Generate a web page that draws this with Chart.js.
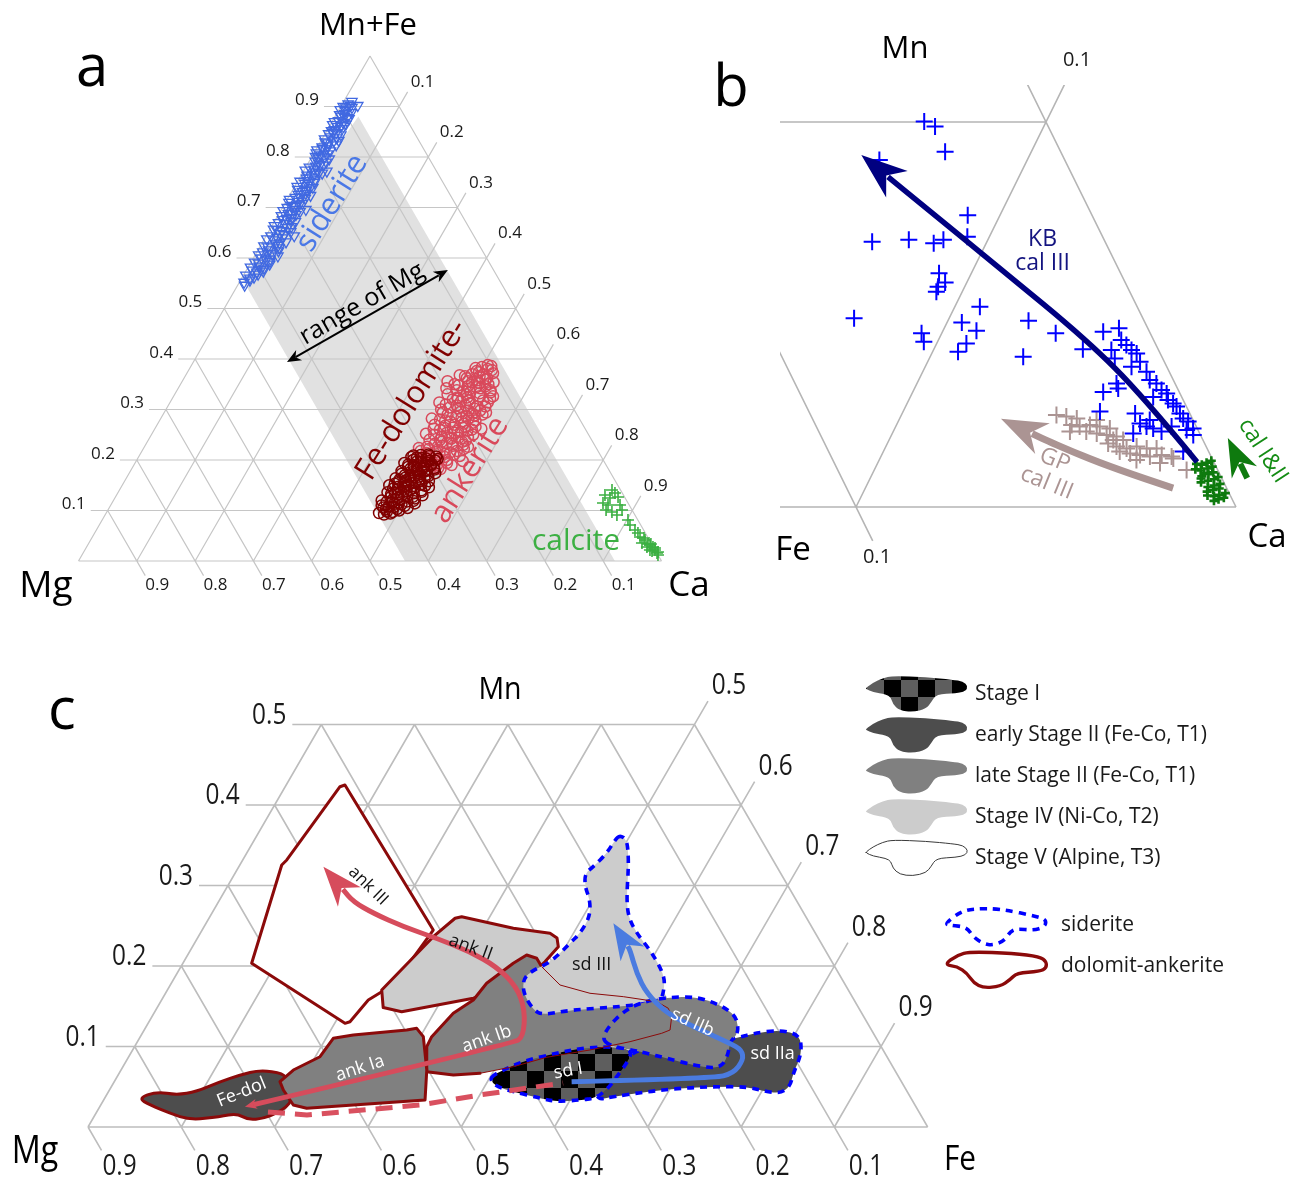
<!DOCTYPE html>
<html>
<head>
<meta charset="utf-8">
<title>Carbonate compositions – ternary diagrams</title>
<script src="https://cdn.jsdelivr.net/npm/chart.js@4.4.1/dist/chart.umd.min.js"></script>
<style>
  html, body { margin: 0; padding: 0; background: #ffffff; }
  canvas { display: block; }
</style>
</head>
<body>
<canvas id="fig" width="1295" height="1180"></canvas>
<script>
// ---------------------------------------------------------------------------
// Grid ticks shared by the three ternary diagrams
const gridTicks = [0.1, 0.2, 0.3, 0.4, 0.5, 0.6, 0.7, 0.8, 0.9];

// ---------------------------------------------------------------------------
// (a) Mg – Ca – (Mn+Fe) ; every row is [Mn+Fe, Ca]  (Mg = 1 - both)
const sideriteA = [
  [0.905,0.010],[0.900,0.004],[0.898,0.020],[0.892,0.012],[0.888,0.024],[0.884,0.006],[0.880,0.016],[0.876,0.026],
  [0.872,0.010],[0.868,0.020],[0.864,0.004],[0.860,0.014],[0.856,0.024],[0.852,0.008],[0.848,0.018],[0.844,0.028],
  [0.840,0.012],[0.836,0.004],[0.832,0.022],[0.828,0.014],[0.824,0.030],[0.820,0.008],[0.816,0.018],[0.812,0.026],
  [0.808,0.004],[0.804,0.014],[0.800,0.022],[0.796,0.032],[0.792,0.010],[0.788,0.018],[0.784,0.028],[0.780,0.006],
  [0.776,0.016],[0.772,0.024],[0.768,0.034],[0.764,0.010],[0.760,0.020],[0.756,0.028],[0.752,0.004],[0.748,0.014],
  [0.744,0.022],[0.740,0.032],[0.736,0.008],[0.732,0.018],[0.728,0.026],[0.724,0.036],[0.720,0.012],[0.716,0.004],
  [0.712,0.022],[0.708,0.030],[0.704,0.014],[0.700,0.008],[0.696,0.024],[0.692,0.034],[0.688,0.016],[0.684,0.006],
  [0.680,0.026],[0.676,0.012],[0.672,0.036],[0.668,0.020],[0.664,0.004],[0.660,0.028],[0.656,0.014],[0.652,0.038],
  [0.648,0.022],[0.644,0.008],[0.640,0.030],[0.636,0.016],[0.632,0.040],[0.628,0.024],[0.624,0.006],[0.620,0.034],
  [0.616,0.018],[0.612,0.010],[0.608,0.028],[0.604,0.040],[0.600,0.014],[0.596,0.024],[0.592,0.006],[0.588,0.034],
  [0.584,0.018],[0.580,0.028],[0.576,0.010],[0.572,0.020],[0.566,0.004],[0.560,0.014],[0.552,0.008],[0.546,0.012],
  [0.772,0.040],[0.696,0.042],[0.644,0.048],[0.910,0.014],[0.902,0.028],
  [0.902,0.016],[0.894,0.002],[0.886,0.014],[0.878,0.022],[0.870,0.004],[0.862,0.020],[0.854,0.012],[0.846,0.006],
  [0.838,0.024],[0.830,0.008],[0.822,0.016],[0.814,0.002],[0.806,0.024],[0.798,0.012],[0.790,0.030],[0.782,0.016],
  [0.774,0.002],[0.766,0.022],[0.758,0.012],[0.750,0.030],[0.742,0.004],[0.734,0.024],[0.726,0.014],[0.718,0.030],
  [0.710,0.006],[0.702,0.020],[0.694,0.004],[0.686,0.030],[0.678,0.018],[0.670,0.008],[0.662,0.034],[0.654,0.022],
  [0.646,0.030],[0.638,0.004],[0.630,0.030],[0.622,0.014],[0.614,0.036],[0.606,0.006],[0.598,0.030],[0.590,0.014],
  [0.582,0.004],[0.574,0.030],[0.568,0.024],[0.562,0.020],[0.556,0.016],
  [0.897,0.010],[0.881,0.010],[0.865,0.026],[0.849,0.012],[0.833,0.030],[0.817,0.010],[0.801,0.006],[0.785,0.022],
  [0.769,0.028],[0.753,0.016],[0.737,0.028],[0.721,0.020],[0.705,0.026],[0.689,0.022],[0.673,0.028],[0.657,0.006],
  [0.641,0.020],[0.625,0.030],[0.609,0.020],[0.593,0.032],[0.577,0.024]
];
const ankeriteA = [
  [0.180,0.505],[0.184,0.525],[0.186,0.488],[0.190,0.545],[0.192,0.515],[0.196,0.495],[0.198,0.560],[0.200,0.532],
  [0.204,0.478],[0.206,0.508],[0.208,0.550],[0.212,0.522],[0.214,0.490],[0.218,0.540],[0.220,0.505],[0.224,0.472],
  [0.226,0.555],[0.228,0.528],[0.232,0.495],[0.234,0.515],[0.238,0.545],[0.240,0.482],[0.244,0.530],[0.246,0.500],
  [0.250,0.552],[0.252,0.470],[0.254,0.518],[0.258,0.538],[0.260,0.490],[0.264,0.510],[0.266,0.548],[0.270,0.476],
  [0.272,0.525],[0.276,0.500],[0.278,0.542],[0.282,0.465],[0.284,0.515],[0.288,0.535],[0.290,0.488],[0.294,0.552],
  [0.296,0.508],[0.300,0.472],[0.302,0.528],[0.306,0.545],[0.308,0.495],[0.312,0.515],[0.314,0.462],[0.318,0.535],
  [0.320,0.482],[0.324,0.505],[0.326,0.548],[0.330,0.468],[0.332,0.522],[0.336,0.492],[0.338,0.538],[0.342,0.460],
  [0.344,0.510],[0.348,0.478],[0.350,0.528],[0.354,0.498],[0.356,0.455],[0.360,0.518],[0.362,0.485],[0.366,0.505],
  [0.368,0.470],[0.372,0.525],[0.376,0.495],[0.380,0.512],[0.384,0.500],[0.388,0.508],
  [0.215,0.530],[0.236,0.505],[0.256,0.528],[0.268,0.495],[0.286,0.522],[0.298,0.540],[0.316,0.498],[0.334,0.505],
  [0.352,0.512],[0.242,0.518],[0.262,0.560],[0.280,0.480],[0.304,0.485],[0.322,0.545],[0.346,0.525],[0.370,0.490],
  [0.202,0.518],[0.222,0.490],[0.230,0.545],
  [0.182,0.530],[0.188,0.500],[0.194,0.535],[0.200,0.490],[0.210,0.538],[0.216,0.505],[0.222,0.550],[0.226,0.485],
  [0.232,0.525],[0.236,0.540],[0.240,0.500],[0.246,0.545],[0.250,0.485],[0.254,0.505],[0.258,0.522],[0.262,0.478],
  [0.266,0.530],[0.270,0.510],[0.274,0.540],[0.278,0.490],[0.282,0.528],[0.286,0.505],[0.290,0.548],[0.294,0.478],
  [0.298,0.520],[0.302,0.500],[0.306,0.530],[0.310,0.475],[0.314,0.545],[0.318,0.510],[0.322,0.490],[0.326,0.525],
  [0.330,0.500],[0.334,0.540],[0.338,0.480],[0.342,0.518],[0.346,0.495],[0.350,0.470],[0.354,0.535],[0.358,0.505],
  [0.362,0.520],[0.366,0.480],[0.370,0.510],[0.374,0.500],[0.378,0.520],[0.382,0.490],[0.386,0.515],[0.190,0.520],
  [0.206,0.525],[0.228,0.510],[0.244,0.515],[0.260,0.545],[0.276,0.520],[0.292,0.530],[0.308,0.510],[0.324,0.488],
  [0.340,0.500],[0.356,0.490],[0.218,0.478],[0.264,0.495]
];
const feDolomiteA = [
  [0.092,0.478],[0.095,0.468],[0.097,0.490],[0.100,0.500],[0.102,0.476],[0.105,0.512],[0.107,0.488],[0.110,0.465],
  [0.112,0.498],[0.114,0.520],[0.116,0.480],[0.118,0.505],[0.120,0.460],[0.122,0.490],[0.124,0.515],[0.126,0.472],
  [0.128,0.500],[0.130,0.525],[0.132,0.482],[0.134,0.508],[0.136,0.462],[0.138,0.494],[0.140,0.518],[0.142,0.476],
  [0.144,0.503],[0.146,0.528],[0.148,0.486],[0.150,0.458],[0.152,0.512],[0.154,0.495],[0.156,0.470],[0.158,0.522],
  [0.160,0.482],[0.162,0.505],[0.164,0.462],[0.166,0.492],[0.168,0.516],[0.170,0.475],[0.172,0.500],[0.174,0.525],
  [0.176,0.485],[0.178,0.465],[0.180,0.508],[0.182,0.490],[0.184,0.518],[0.186,0.472],[0.188,0.498],[0.190,0.480],
  [0.192,0.510],[0.194,0.462],[0.196,0.490],[0.198,0.502],[0.200,0.474],[0.202,0.515],[0.204,0.486],[0.206,0.468],
  [0.208,0.498],[0.210,0.482],[0.125,0.485],[0.135,0.475],[0.145,0.490],[0.155,0.482],[0.165,0.478],[0.175,0.495],
  [0.185,0.500],[0.115,0.492],[0.108,0.478],[0.143,0.468],[0.163,0.512],[0.183,0.478],
  [0.094,0.488],[0.098,0.480],[0.103,0.495],[0.106,0.470],[0.109,0.505],[0.113,0.485],[0.117,0.470],[0.119,0.515],
  [0.121,0.478],[0.127,0.510],[0.129,0.490],[0.133,0.470],[0.137,0.520],[0.139,0.484],[0.141,0.498],[0.147,0.475],
  [0.149,0.520],[0.151,0.490],[0.153,0.466],[0.157,0.505],[0.159,0.490],[0.161,0.470],[0.167,0.500],[0.169,0.485],
  [0.171,0.512],[0.173,0.468],[0.177,0.505],[0.179,0.490],[0.181,0.520],[0.187,0.482],[0.189,0.510],[0.191,0.470],
  [0.195,0.500],[0.197,0.482],[0.199,0.512],[0.203,0.495],[0.205,0.478],[0.207,0.510],[0.209,0.470],[0.211,0.495]
];
const calciteA = [
  [0.1406,0.8448],[0.1347,0.8528],[0.1307,0.8377],[0.1267,0.8621],[0.1248,0.8492],[0.1149,0.8422],[0.1109,0.8528],
  [0.1109,0.8734],[0.1010,0.8544],[0.1010,0.8818],[0.0970,0.8665],[0.0911,0.8780],[0.0812,0.9019],[0.0713,0.9103],
  [0.0614,0.9238],[0.0554,0.9319],[0.0475,0.9394],[0.0455,0.9472],[0.0416,0.9509],[0.0356,0.9487],[0.0337,0.9600],
  [0.0337,0.9650],[0.0317,0.9645],[0.0277,0.9612],[0.0277,0.9715],[0.0257,0.9760],[0.0218,0.9693],[0.0218,0.9779],
  [0.0198,0.9738],[0.0178,0.9851],[0.0158,0.9844],[0.0119,0.9880]
];
// band of Mg contents spanned by the carbonates, [Mn+Fe, Ca]
const mgRangeBand = [[0, 0.56], [0, 0.92], [0.88, 0.04], [0.555, 0.005]];
// double arrow "range of Mg", [Mn+Fe, Ca]
const mgRangeArrow = [[0.394, 0.1606], [0.576, 0.3456]];

// ---------------------------------------------------------------------------
// (b) Ca corner of Fe – Ca – Mn ; every row is [Mn, Fe]  (Ca = 1 - both)
const kbCalIII = [
  [0.1001,0.0320],[0.0988,0.0298],[0.0923,0.0304],[0.0901,0.0488],[0.0758,0.0327],[0.0689,0.0613],[0.0694,0.0514],
  [0.0685,0.0453],[0.0694,0.0423],[0.0702,0.0356],[0.0607,0.0478],[0.0583,0.0474],[0.0572,0.0498],[0.0559,0.0509],
  [0.0490,0.0760],[0.0520,0.0414],[0.0479,0.0482],[0.0458,0.0454],[0.0451,0.0602],[0.0429,0.0607],[0.0425,0.0497],
  [0.0403,0.0530],[0.0484,0.0304],[0.0451,0.0249],[0.0390,0.0365],[0.0410,0.0198],
  [0.0455,0.0122],[0.0464,0.0076],[0.0434,0.0085],[0.0408,0.0124],[0.0421,0.0078],[0.0408,0.0071],[0.0399,0.0062],
  [0.0386,0.0126],[0.0377,0.0064],[0.0364,0.0093],[0.0351,0.0060],[0.0330,0.0062],[0.0321,0.0049],[0.0304,0.0044],
  [0.0295,0.0035],[0.0286,0.0075],[0.0278,0.0040],[0.0269,0.0031],[0.0261,0.0026],[0.0243,0.0026],[0.0230,0.0024],
  [0.0222,0.0015],[0.0204,0.0011],[0.0187,0.0019],[0.0144,0.0067],[0.0299,0.0200],[0.0308,0.0156],[0.0321,0.0154],
  [0.0248,0.0234],[0.0243,0.0144],[0.0217,0.0144],[0.0209,0.0131],[0.0204,0.0116],[0.0196,0.0098],[0.0191,0.0175],
  [0.0226,0.0114],[0.0209,0.0065],[0.0200,0.0030]
];
const gpCalIII = [
  [0.0239,0.0353],[0.0235,0.0329],[0.0230,0.0304],[0.0213,0.0326],[0.0209,0.0307],[0.0213,0.0278],[0.0209,0.0254],
  [0.0204,0.0230],[0.0196,0.0339],[0.0196,0.0296],[0.0191,0.0271],[0.0187,0.0247],[0.0183,0.0223],[0.0174,0.0210],
  [0.0165,0.0254],[0.0157,0.0236],[0.0152,0.0212],[0.0157,0.0183],[0.0152,0.0159],[0.0152,0.0133],[0.0144,0.0234],
  [0.0139,0.0209],[0.0135,0.0185],[0.0131,0.0161],[0.0135,0.0128],[0.0131,0.0104],[0.0114,0.0143],[0.0122,0.0201],
  [0.0096,0.0082],[0.0126,0.0102],[0.0226,0.0254],[0.0174,0.0236]
];
const calIandII = [
  [0.0120,0.0005],[0.0115,0.0020],[0.0110,0.0035],[0.0105,0.0010],[0.0100,0.0025],[0.0095,0.0045],[0.0090,0.0015],
  [0.0085,0.0030],[0.0080,0.0050],[0.0078,0.0008],[0.0072,0.0022],[0.0068,0.0040],[0.0064,0.0060],[0.0060,0.0012],
  [0.0056,0.0030],[0.0052,0.0048],[0.0048,0.0020],[0.0044,0.0038],[0.0040,0.0056],[0.0036,0.0010],[0.0032,0.0028],
  [0.0028,0.0044],[0.0024,0.0020],[0.0020,0.0036],[0.0016,0.0050],[0.0098,0.0058],[0.0088,0.0040],[0.0074,0.0055],
  [0.0112,0.0048],[0.0030,0.0060]
];
// evolution trends in (b), [Mn, Fe]
const kbTrend  = [[0.0117,0.0044],[0.0288,0.0101],[0.0434,0.0176],[0.0621,0.0312],[0.0769,0.0422],[0.0914,0.0529]];
const gpTrend  = [[0.0049,0.0141],[0.0101,0.0276],[0.0166,0.0401],[0.0229,0.0504]];
const calTrend = [[0.0075,-0.0067],[0.0179,-0.0068]];

// ---------------------------------------------------------------------------
// (c) Mg – Fe – Mn (Mn <= 0.5) ; fields as [Mn, Fe] outlines  (Mg = 1 - both)
const feDol = [[0.0357,0.1361],[0.0439,0.1517],[0.0398,0.1752],[0.0439,0.1945],[0.0563,0.2133],[0.0646,0.2307],
  [0.0708,0.2490],[0.0667,0.2760],[0.0584,0.2838],[0.0335,0.3016],[0.0252,0.3003],[0.0170,0.2938],[0.0108,0.2825],
  [0.0087,0.2674],[0.0170,0.2509],[0.0128,0.2350],[0.0087,0.2049],[0.0170,0.1794],[0.0273,0.1528]];
const ankIa = [[0.0563,0.2776],[0.0708,0.2847],[0.0873,0.3050],[0.1102,0.3078],[0.1143,0.3272],[0.1205,0.3814],
  [0.1226,0.3910],[0.1122,0.4033],[0.0708,0.4277],[0.0335,0.4445],[0.0232,0.3228],[0.0273,0.3064],[0.0460,0.2864]];
const ankIb = [[0.0687,0.4287],[0.0998,0.4132],[0.1122,0.4123],[0.1412,0.4209],[0.1578,0.4341],[0.1785,0.4380],
  [0.2034,0.4541],[0.2137,0.4633],[0.2096,0.4761],[0.1991,0.4867],[0.1764,0.5177],[0.1661,0.5550],[0.1619,0.5928],
  [0.1557,0.6317],[0.1475,0.6482],[0.1370,0.6571],[0.1205,0.6636],[0.1164,0.6567],[0.1060,0.6280],[0.0957,0.5902],
  [0.0866,0.5483],[0.0749,0.5184],[0.0667,0.4868],[0.0646,0.4593]];
const ankII = [[0.2593,0.3638],[0.2612,0.3699],[0.2468,0.4325],[0.2406,0.4749],[0.2348,0.4853],[0.2240,0.4921],
  [0.2053,0.4871],[0.1764,0.4748],[0.1599,0.4330],[0.1432,0.3646],[0.1484,0.3422],[0.1702,0.3297],[0.2364,0.3519]];
const ankIII = [[0.4248,0.1630],[0.2447,0.3477],[0.1739,0.3389],[0.1681,0.3308],[0.1578,0.3215],[0.1308,0.3154],
  [0.1288,0.3110],[0.2034,0.1737],[0.3255,0.1449],[0.3317,0.1472],[0.4227,0.1587]];
const sdI = [[0.0646,0.5021],[0.0729,0.5123],[0.0832,0.5286],[0.0916,0.5566],[0.0978,0.5785],[0.0998,0.6061],
  [0.0978,0.6285],[0.0916,0.6370],[0.0791,0.6378],[0.0625,0.6355],[0.0460,0.6330],[0.0357,0.6256],[0.0335,0.6106],
  [0.0314,0.5866],[0.0357,0.5667],[0.0439,0.5339],[0.0501,0.5130],[0.0584,0.5017]];
const sdIIa = [[0.1102,0.7402],[0.1164,0.7549],[0.1205,0.7815],[0.1143,0.8060],[0.0916,0.8192],[0.0667,0.8226],
  [0.0501,0.8273],[0.0419,0.8208],[0.0439,0.8055],[0.0501,0.7809],[0.0501,0.7451],[0.0481,0.7105],[0.0439,0.6768],
  [0.0376,0.6442],[0.0335,0.6267],[0.0584,0.6196],[0.0832,0.6286],[0.1019,0.6514],[0.1081,0.7234]];
const sdIIb = [[0.1081,0.5966],[0.1246,0.5954],[0.1432,0.6021],[0.1544,0.6145],[0.1611,0.6397],[0.1619,0.6715],
  [0.1516,0.7016],[0.1391,0.7239],[0.1246,0.7347],[0.1143,0.7382],[0.1060,0.7352],[0.0916,0.7405],[0.0770,0.7424],
  [0.0729,0.7338],[0.0770,0.7103],[0.0853,0.6776],[0.0916,0.6531],[0.0957,0.6349],[0.0998,0.6132]];
const sdIII = [[0.3627,0.4889],[0.3565,0.4991],[0.3400,0.5091],[0.3193,0.5195],[0.2861,0.5343],[0.2612,0.5484],
  [0.2406,0.5678],[0.2199,0.5924],[0.1991,0.6135],[0.1826,0.6271],[0.1661,0.6335],[0.1557,0.6353],[0.1494,0.5955],
  [0.1453,0.5439],[0.1391,0.5184],[0.1453,0.5046],[0.1661,0.4835],[0.1847,0.4742],[0.1950,0.4797],[0.2034,0.4916],
  [0.2158,0.4980],[0.2282,0.5025],[0.2406,0.5071],[0.2612,0.5074],[0.2820,0.4971],[0.2985,0.4834],[0.3152,0.4751],
  [0.3234,0.4800],[0.3400,0.4860],[0.3565,0.4866]];
// evolution trends in (c), [Mn, Fe]
const ankTrend = [[0.0252,0.2556],[0.1040,0.5039],[0.1122,0.5105],[0.1453,0.4957],[0.1743,0.4723],[0.1991,0.4385],
  [0.2178,0.4005],[0.2344,0.3566],[0.2488,0.3135],[0.2655,0.2731],[0.2799,0.2444],[0.3234,0.1906]];
const ankSdLink = [[0.0186,0.2836],[0.0149,0.3272],[0.0273,0.4422],[0.0398,0.5003],[0.0547,0.5818]];
const sdTrend = [[0.0563,0.5902],[0.0605,0.7400],[0.0667,0.7583],[0.0832,0.7608],[0.0957,0.7528],[0.1040,0.7361],
  [0.1246,0.6865],[0.1412,0.6496],[0.1661,0.6158],[0.1909,0.5926],[0.2199,0.5710],[0.2530,0.5366]];

// legend of (c)
const stageNames = ['Stage I', 'early Stage II (Fe-Co, T1)', 'late Stage II (Fe-Co, T1)',
                    'Stage IV (Ni-Co, T2)', 'Stage V (Alpine, T3)'];
const mineralNames = ['siderite', 'dolomit-ankerite'];

// ---------------------------------------------------------------------------
const W = 1295, H = 1180;
const FONT = "'Open Sans', 'DejaVu Sans', sans-serif";

// Ternary projection: top component -> height, right component -> width
const tern = (top, right) => ({ x: right + top / 2, y: top });
const toXY = {
  a: ([t, ca]) => tern(t, ca),
  b: ([mn, fe]) => tern(mn, 1 - mn - fe),
  c: ([mn, fe]) => tern(mn, fe)
};

// page frame of each diagram: pixel origin and pixels per unit
const frames = {
  a: { x0: 78.5,  kx: 583,  y0: 561,  ky: 505 },
  b: { x0: -2564, kx: 3800, y0: 507,  ky: 3850 },
  c: { x0: -5.3,  kx: 933,  y0: 1127, ky: 805 }
};
const scaleConfig = { x: { display: false }, y: { display: false } };
for (const [k, f] of Object.entries(frames)) {
  scaleConfig['x' + k] = { type: 'linear', display: false, min: -f.x0 / f.kx, max: (W - f.x0) / f.kx };
  scaleConfig['y' + k] = { type: 'linear', display: false, min: -(H - f.y0) / f.ky, max: f.y0 / f.ky };
}

// ---------------------------------------------------------------------------
// grid segments (compositions) for each diagram
function gridA() {
  const e = 0.029;
  const segs = [[[0, 0], [0, 1]], [[0, 1], [1, 0]], [[1, 0], [0, 0]]];
  gridTicks.forEach(v => {
    segs.push([[v, -e], [v, 1 - v]]);          // Mn+Fe = v
    segs.push([[0, v], [1 - v + e, v]]);       // Ca = v
    segs.push([[1 - v, 0], [-e, 1 - v + e]]);  // Mg = v
  });
  return segs;
}
const gridB = [
  [[0, 0], [0, 0.2]],
  [[0, 0], [0.2, 0]],
  [[0.1, 0], [0.1, 0.2]],
  [[-0.0088, 0.1], [0.2, 0.1]],
  [[0, 0.1], [0.2, -0.1]]
];
const C_E = 0.029, C_EH = 0.031, C_FMIN = 0.1, C_TOP = 0.5;
function gridC() {
  const segs = [[[0, C_FMIN], [0, 1]], [[0, 1], [C_TOP, 1 - C_TOP]], [[0, C_FMIN], [C_TOP, C_FMIN]]];
  gridTicks.forEach(v => {
    if (v <= C_TOP) segs.push([[v, C_FMIN - C_EH], [v, 1 - v]]);
    if (v > C_FMIN) {
      const top = Math.min(C_TOP, 1 - v);
      segs.push([[0, v], [top + (v >= C_TOP ? C_E : 0), v]]);
    }
    const mnTop = Math.min(C_TOP, 1 - C_FMIN - v);
    segs.push([[mnTop, 1 - v - mnTop], [-C_E, 1 - v + C_E]]);
  });
  return segs;
}

function gridSet(panel, segs, color, width, extra) {
  const data = [];
  segs.forEach(s => { s.forEach(p => data.push(toXY[panel](p))); data.push({ x: NaN, y: NaN }); });
  return Object.assign({
    xAxisID: 'x' + panel, yAxisID: 'y' + panel, data,
    showLine: true, pointRadius: 0, borderColor: color, borderWidth: width,
    spanGaps: false, fill: false, order: 10
  }, extra || {});
}
function pointSet(panel, rows, style) {
  return Object.assign({
    xAxisID: 'x' + panel, yAxisID: 'y' + panel,
    data: rows.map(toXY[panel]), showLine: false,
    pointBackgroundColor: 'rgba(0,0,0,0)'
  }, style);
}

const datasets = [
  gridSet('a', gridA(), '#c6c6c6', 1.2),
  gridSet('b', gridB, '#b5b5b5', 1.6, { clip: { left: -780, top: -85, right: 0, bottom: 0 } }),
  gridSet('c', gridC(), '#bdbdbd', 1.6),
  pointSet('a', sideriteA,   { pointStyle: 'triangle', pointRotation: 180, pointRadius: 6, pointBorderColor: '#4169e1', pointBorderWidth: 1.3, order: 3 }),
  pointSet('a', ankeriteA,   { pointStyle: 'circle', pointRadius: 5.5, pointBorderColor: '#d9495b', pointBorderWidth: 1.5, order: 3 }),
  pointSet('a', feDolomiteA, { pointStyle: 'circle', pointRadius: 5.5, pointBorderColor: '#800000', pointBorderWidth: 1.5, order: 2 }),
  pointSet('a', calciteA,    { pointStyle: 'cross', pointRadius: 6, pointBorderColor: '#3cb043', pointBorderWidth: 1.6, order: 3 }),
  pointSet('b', gpCalIII,    { pointStyle: 'cross', pointRadius: 8.5, pointBorderColor: '#ab9493', pointBorderWidth: 2, order: 3 }),
  pointSet('b', kbCalIII,    { pointStyle: 'cross', pointRadius: 8.5, pointBorderColor: '#0000ff', pointBorderWidth: 2, order: 2 }),
  pointSet('b', calIandII,   { pointStyle: 'cross', pointRadius: 4.5, pointBorderColor: '#0e7a0e', pointBorderWidth: 2.6, order: 2 })
];

// ---------------------------------------------------------------------------
// drawing helpers
const mid = (p, q) => [(p[0] + q[0]) / 2, (p[1] + q[1]) / 2];
function P(chart, panel, comp) {
  const q = toXY[panel](comp);
  return [chart.scales['x' + panel].getPixelForValue(q.x), chart.scales['y' + panel].getPixelForValue(q.y)];
}
function tracePoly(ctx, pts, smooth) {
  ctx.beginPath();
  if (!smooth) {
    pts.forEach((p, i) => i ? ctx.lineTo(p[0], p[1]) : ctx.moveTo(p[0], p[1]));
    ctx.closePath();
    return;
  }
  const n = pts.length;
  const m0 = mid(pts[n - 1], pts[0]);
  ctx.moveTo(m0[0], m0[1]);
  for (let i = 0; i < n; i++) {
    const m = mid(pts[i], pts[(i + 1) % n]);
    ctx.quadraticCurveTo(pts[i][0], pts[i][1], m[0], m[1]);
  }
  ctx.closePath();
}
function traceOpen(ctx, pts, smooth) {
  ctx.beginPath();
  ctx.moveTo(pts[0][0], pts[0][1]);
  if (!smooth || pts.length < 3) {
    for (let i = 1; i < pts.length; i++) ctx.lineTo(pts[i][0], pts[i][1]);
    return;
  }
  for (let i = 1; i < pts.length - 1; i++) {
    const m = mid(pts[i], pts[i + 1]);
    ctx.quadraticCurveTo(pts[i][0], pts[i][1], m[0], m[1]);
  }
  ctx.lineTo(pts[pts.length - 1][0], pts[pts.length - 1][1]);
}
function head(ctx, tip, dx, dy, len, half, color) {
  const bx = tip[0] - dx * len, by = tip[1] - dy * len, nx = -dy, ny = dx;
  ctx.beginPath();
  ctx.moveTo(tip[0], tip[1]);
  ctx.lineTo(bx + nx * half, by + ny * half);
  ctx.lineTo(tip[0] - dx * len * 0.7, tip[1] - dy * len * 0.7);
  ctx.lineTo(bx - nx * half, by - ny * half);
  ctx.closePath();
  ctx.fillStyle = color;
  ctx.fill();
}
function unit(a, b) {
  const dx = b[0] - a[0], dy = b[1] - a[1], L = Math.hypot(dx, dy) || 1;
  return [dx / L, dy / L];
}
function arrow(ctx, pts, o) {
  const n = pts.length, tip = pts[n - 1];
  const [dx, dy] = unit(pts[n - 2], tip);
  const shaft = pts.slice(0, n - 1).concat([[tip[0] - dx * o.len * 0.75, tip[1] - dy * o.len * 0.75]]);
  if (o.tail) {
    const [tx, ty] = unit(pts[1], pts[0]);
    head(ctx, pts[0], tx, ty, o.tail[0], o.tail[1], o.color);
    shaft[0] = [pts[0][0] - tx * o.tail[0] * 0.7, pts[0][1] - ty * o.tail[0] * 0.7];
  }
  ctx.save();
  ctx.strokeStyle = o.color;
  ctx.lineWidth = o.width;
  ctx.lineCap = 'butt';
  ctx.lineJoin = 'round';
  traceOpen(ctx, shaft, o.smooth);
  ctx.stroke();
  ctx.restore();
  head(ctx, tip, dx, dy, o.len, o.half, o.color);
}
function text(ctx, s, x, y, o) {
  ctx.save();
  ctx.translate(x, y);
  if (o.rot) ctx.rotate(o.rot * Math.PI / 180);
  if (o.sx) ctx.scale(o.sx, 1);
  ctx.font = (o.weight || 'normal') + ' ' + o.size + 'px ' + (o.family || FONT);
  ctx.fillStyle = o.color || '#1a1a1a';
  ctx.textAlign = o.align || 'center';
  ctx.textBaseline = o.base || 'middle';
  ctx.fillText(s, 0, 0);
  ctx.restore();
}
function checker(ctx) {
  const c = document.createElement('canvas');
  c.width = 34; c.height = 34;
  const g = c.getContext('2d');
  g.fillStyle = '#5e5e5e'; g.fillRect(0, 0, 34, 34);
  g.fillStyle = '#000000'; g.fillRect(0, 0, 17, 17); g.fillRect(17, 17, 17, 17);
  return ctx.createPattern(c, 'repeat');
}

const DOL_RED = '#8b0a0a', SD_BLUE = '#0000ff';
const SD_DASH = [7, 6];
const FILL = { early: '#4d4d4d', late: '#808080', stageIV: '#cccccc', stageV: '#ffffff' };

function region(ctx, pts, o) {
  tracePoly(ctx, pts, o.smooth);
  ctx.fillStyle = o.fill;
  ctx.fill();
  if (o.stroke) {
    ctx.save();
    ctx.strokeStyle = o.stroke;
    ctx.lineWidth = o.lw;
    ctx.lineJoin = 'round';
    ctx.lineCap = o.dash ? 'butt' : 'round';
    ctx.setLineDash(o.dash || []);
    tracePoly(ctx, pts, o.smooth);
    ctx.stroke();
    ctx.restore();
  }
}

// ---------------------------------------------------------------------------
function drawPanelA(chart, ctx) {
  const e = 0.029;
  gridTicks.forEach(v => {
    const l = P(chart, 'a', [v, -e]);
    text(ctx, v.toFixed(1), l[0] - 5, l[1] - 6, { size: 17, align: 'right' });
    const r = P(chart, 'a', [1 - v + e, v]);
    text(ctx, v.toFixed(1), r[0] + 15, r[1] - 10, { size: 17 });
    const b = P(chart, 'a', [-e, 1 - v + e]);
    text(ctx, v.toFixed(1), b[0] + 12, b[1] + 10, { size: 17 });
  });
  const a0 = P(chart, 'a', mgRangeArrow[0]), a1 = P(chart, 'a', mgRangeArrow[1]);
  arrow(ctx, [a0, a1], { color: '#000000', width: 2, len: 14, half: 6, tail: [14, 6] });

  const put = (s, comp, o) => { const p = P(chart, 'a', comp); text(ctx, s, p[0], p[1], o); };
  put('siderite', [0.709, 0.0803], { size: 31, color: '#4a78e6', rot: -58 });
  put('range of Mg', [0.5089, 0.2319], { size: 25, color: '#000000', rot: -30 });
  put('Fe-dolomite-', [0.3188, 0.4122], { size: 31, color: '#800000', rot: -58 });
  put('ankerite', [0.1802, 0.5815], { size: 31, color: '#d9495b', rot: -58 });
  put('calcite', [0.0396, 0.8335], { size: 30, color: '#3cb043' });

  text(ctx, 'a', 92, 86, { size: 58, base: 'alphabetic', color: '#000' });
  text(ctx, 'Mn+Fe', 368, 26, { size: 31, color: '#000' });
  text(ctx, 'Mg', 46, 586, { size: 37, color: '#000' });
  text(ctx, 'Ca', 689, 586, { size: 35, color: '#000' });
}

function drawPanelB(chart, ctx) {
  const pb = rows => rows.map(r => P(chart, 'b', r));
  arrow(ctx, pb(gpTrend), { color: '#ab9493', width: 7, len: 46, half: 17, smooth: true });
  arrow(ctx, pb(kbTrend), { color: '#000080', width: 5.5, len: 46, half: 17, smooth: true });
  arrow(ctx, pb(calTrend), { color: '#0e7a0e', width: 6, len: 38, half: 14 });

  const put = (s, comp, o) => { const p = P(chart, 'b', comp); text(ctx, s, p[0], p[1], o); };
  put('KB', [0.0694, 0.0162], { size: 23, color: '#141480' });
  put('cal III', [0.0632, 0.0193], { size: 23, color: '#141480' });
  put('GP', [0.0122, 0.0416], { size: 23, color: '#ab9493', rot: 22 });
  put('cal III', [0.0062, 0.0467], { size: 23, color: '#ab9493', rot: 22 });
  put('cal I&II', [0.0146, -0.0144], { size: 23, color: '#148c14', rot: 57 });

  text(ctx, 'b', 731, 106, { size: 58, base: 'alphabetic', color: '#000' });
  text(ctx, 'Mn', 905, 49, { size: 31, color: '#000' });
  text(ctx, 'Fe', 793, 551, { size: 33, color: '#000' });
  text(ctx, 'Ca', 1267, 538, { size: 33, color: '#000' });
  text(ctx, '0.1', 1077, 60, { size: 20 });
  text(ctx, '0.1', 877, 557, { size: 20 });
}

function drawPanelC(chart, ctx) {
  const pc = rows => rows.map(r => P(chart, 'c', r));
  const check = checker(ctx);

  gridTicks.forEach(v => {
    if (v <= C_TOP) {
      const l = P(chart, 'c', [v, C_FMIN - C_EH]);
      text(ctx, v.toFixed(1), l[0] - 6, l[1] - 9, { size: 29, sx: 0.84, align: 'right' });
    }
    if (v >= C_TOP) {
      const r = P(chart, 'c', [1 - v + C_E, v]);
      text(ctx, v.toFixed(1), r[0] + 21, r[1] - 15, { size: 29, sx: 0.84 });
    }
    const b = P(chart, 'c', [-C_E, 1 - v + C_E]);
    text(ctx, v.toFixed(1), b[0] + 18, b[1] + 16, { size: 29, sx: 0.84 });
  });

  // dolomite – ankerite fields
  region(ctx, pc(ankIII), { fill: FILL.stageV, stroke: DOL_RED, lw: 3 });
  region(ctx, pc(ankII), { fill: FILL.stageIV, stroke: DOL_RED, lw: 3 });
  const ib = pc(ankIb);
  region(ctx, ib, { fill: FILL.late });
  ctx.save();
  ctx.strokeStyle = DOL_RED; ctx.lineWidth = 3; ctx.lineJoin = 'round'; ctx.lineCap = 'round';
  traceOpen(ctx, [ib[22], ib[23]].concat(ib.slice(0, 10)), false);
  ctx.stroke();
  ctx.restore();
  region(ctx, pc(feDol), { fill: FILL.early, stroke: DOL_RED, lw: 3, smooth: true });
  region(ctx, pc(ankIa), { fill: FILL.late, stroke: DOL_RED, lw: 3 });

  // siderite fields
  region(ctx, pc(sdIIa), { fill: FILL.early, stroke: SD_BLUE, lw: 3.6, dash: SD_DASH, smooth: true });
  region(ctx, pc(sdI), { fill: check, stroke: SD_BLUE, lw: 3.6, dash: SD_DASH, smooth: true });
  region(ctx, pc(sdIII), { fill: FILL.stageIV, stroke: SD_BLUE, lw: 3.6, dash: SD_DASH, smooth: true });
  region(ctx, pc(sdIIb), { fill: FILL.late, stroke: SD_BLUE, lw: 3.6, dash: SD_DASH, smooth: true });

  // hidden part of the ank Ib outline
  ctx.save();
  ctx.strokeStyle = DOL_RED; ctx.lineWidth = 1; ctx.lineJoin = 'round';
  traceOpen(ctx, ib.slice(9, 23), false);
  ctx.stroke();
  ctx.restore();

  // trends
  ctx.save();
  ctx.strokeStyle = '#d9505f'; ctx.lineWidth = 5; ctx.setLineDash([17, 10]);
  traceOpen(ctx, pc(ankSdLink), false);
  ctx.stroke();
  ctx.restore();
  arrow(ctx, pc(ankTrend), { color: '#d64c5c', width: 5, len: 40, half: 15, smooth: true, tail: [12, 5] });
  arrow(ctx, pc(sdTrend), { color: '#4a7be0', width: 5, len: 36, half: 14, smooth: true });

  const put = (s, comp, o) => { const p = P(chart, 'c', comp); text(ctx, s, p[0], p[1], o); };
  put('ank III', [0.2996, 0.2506], { size: 17, color: '#111', rot: 44 });
  put('ank II', [0.2230, 0.3988], { size: 18, color: '#111', rot: 20 });
  put('ank Ib', [0.1093, 0.4727], { size: 18, color: '#ffffff', rot: -19 });
  put('ank Ia', [0.0729, 0.3551], { size: 18, color: '#ffffff', rot: -18 });
  put('Fe-dol', [0.0429, 0.2433], { size: 18, color: '#ffffff', rot: -22 });
  put('sd III', [0.2012, 0.5392], { size: 18, color: '#111' });
  put('sd IIb', [0.1298, 0.6830], { size: 18, color: '#ffffff', rot: 24 });
  put('sd IIa', [0.0903, 0.7887], { size: 18, color: '#ffffff' });
  put('sd I', [0.0698, 0.5798], { size: 18, color: '#ffffff', rot: -10 });

  text(ctx, 'c', 62, 729, { size: 58, base: 'alphabetic', color: '#000' });
  text(ctx, 'Mn', 500, 690, { size: 31, sx: 0.92, color: '#000' });
  text(ctx, 'Mg', 35, 1152, { size: 38, sx: 0.85, color: '#000' });
  text(ctx, 'Fe', 960, 1160, { size: 35, sx: 0.85, color: '#000' });

  drawLegend(ctx, check);
}

// normalised outlines of the legend glyphs
const stageGlyph = [[0,0.35],[0.066,0.217],[0.164,0.087],[0.262,0.026],[0.59,0.061],[0.852,0.13],[0.951,0.174],
  [1,0.304],[0.977,0.435],[0.885,0.496],[0.689,0.522],[0.639,0.739],[0.59,0.913],[0.459,1],[0.328,0.957],
  [0.262,0.783],[0.246,0.609],[0.197,0.522],[0.066,0.461],[0,0.374]];
const sideriteGlyph = [[0,0.42],[0.145,0.125],[0.274,0.042],[0.532,0.042],[0.919,0.25],[0.984,0.333],[0.968,0.5],
  [0.855,0.583],[0.694,0.542],[0.629,0.625],[0.581,0.833],[0.468,0.958],[0.371,0.917],[0.274,0.75],[0.21,0.5],[0.048,0.458]];
const dolomiteGlyph = [[0,0.39],[0.127,0.13],[0.254,0.043],[0.667,0.087],[0.921,0.174],[0.984,0.304],[0.984,0.478],
  [0.921,0.565],[0.698,0.609],[0.635,0.783],[0.54,0.957],[0.381,1],[0.286,0.87],[0.222,0.609],[0.127,0.435]];

function drawLegend(ctx, check) {
  const box = (g, x, y, w, h) => g.map(([u, v]) => [x + u * w, y + v * h]);
  const fills = [check, FILL.early, FILL.late, FILL.stageIV, FILL.stageV];
  stageNames.forEach((name, i) => {
    const yc = 693 + 41 * i;
    const pts = box(stageGlyph, 866, yc - 18, 102, 37);
    region(ctx, pts, { fill: fills[i], smooth: true, stroke: i === 4 ? '#3a3a3a' : null, lw: 1 });
    text(ctx, name, 975, yc + 1, { size: 21, align: 'left', color: '#1a1a1a' });
  });
  ctx.save();
  ctx.strokeStyle = SD_BLUE; ctx.lineWidth = 3.6; ctx.setLineDash(SD_DASH);
  tracePoly(ctx, box(sideriteGlyph, 945, 907, 103, 40), true);
  ctx.stroke();
  ctx.restore();
  ctx.save();
  ctx.strokeStyle = DOL_RED; ctx.lineWidth = 3.4; ctx.lineJoin = 'round';
  tracePoly(ctx, box(dolomiteGlyph, 944, 950, 104, 38), true);
  ctx.stroke();
  ctx.restore();
  text(ctx, mineralNames[0], 1061, 925, { size: 21, align: 'left' });
  text(ctx, mineralNames[1], 1061, 966, { size: 21, align: 'left' });
}

const figurePlugin = {
  id: 'ternaryFigure',
  beforeDatasetsDraw(chart) {
    const ctx = chart.ctx;
    ctx.save();
    tracePoly(ctx, mgRangeBand.map(p => P(chart, 'a', p)), false);
    ctx.fillStyle = '#e1e1e1';
    ctx.fill();
    ctx.restore();
  },
  afterDatasetsDraw(chart) {
    const ctx = chart.ctx;
    ctx.save();
    drawPanelA(chart, ctx);
    drawPanelB(chart, ctx);
    drawPanelC(chart, ctx);
    ctx.restore();
  }
};

new Chart(document.getElementById('fig'), {
  type: 'scatter',
  data: { datasets },
  options: {
    responsive: false,
    animation: false,
    devicePixelRatio: 1,
    events: [],
    layout: { padding: 0, autoPadding: false },
    plugins: { legend: { display: false }, tooltip: { enabled: false }, title: { display: false } },
    scales: scaleConfig
  },
  plugins: [figurePlugin]
});
</script>
</body>
</html>
